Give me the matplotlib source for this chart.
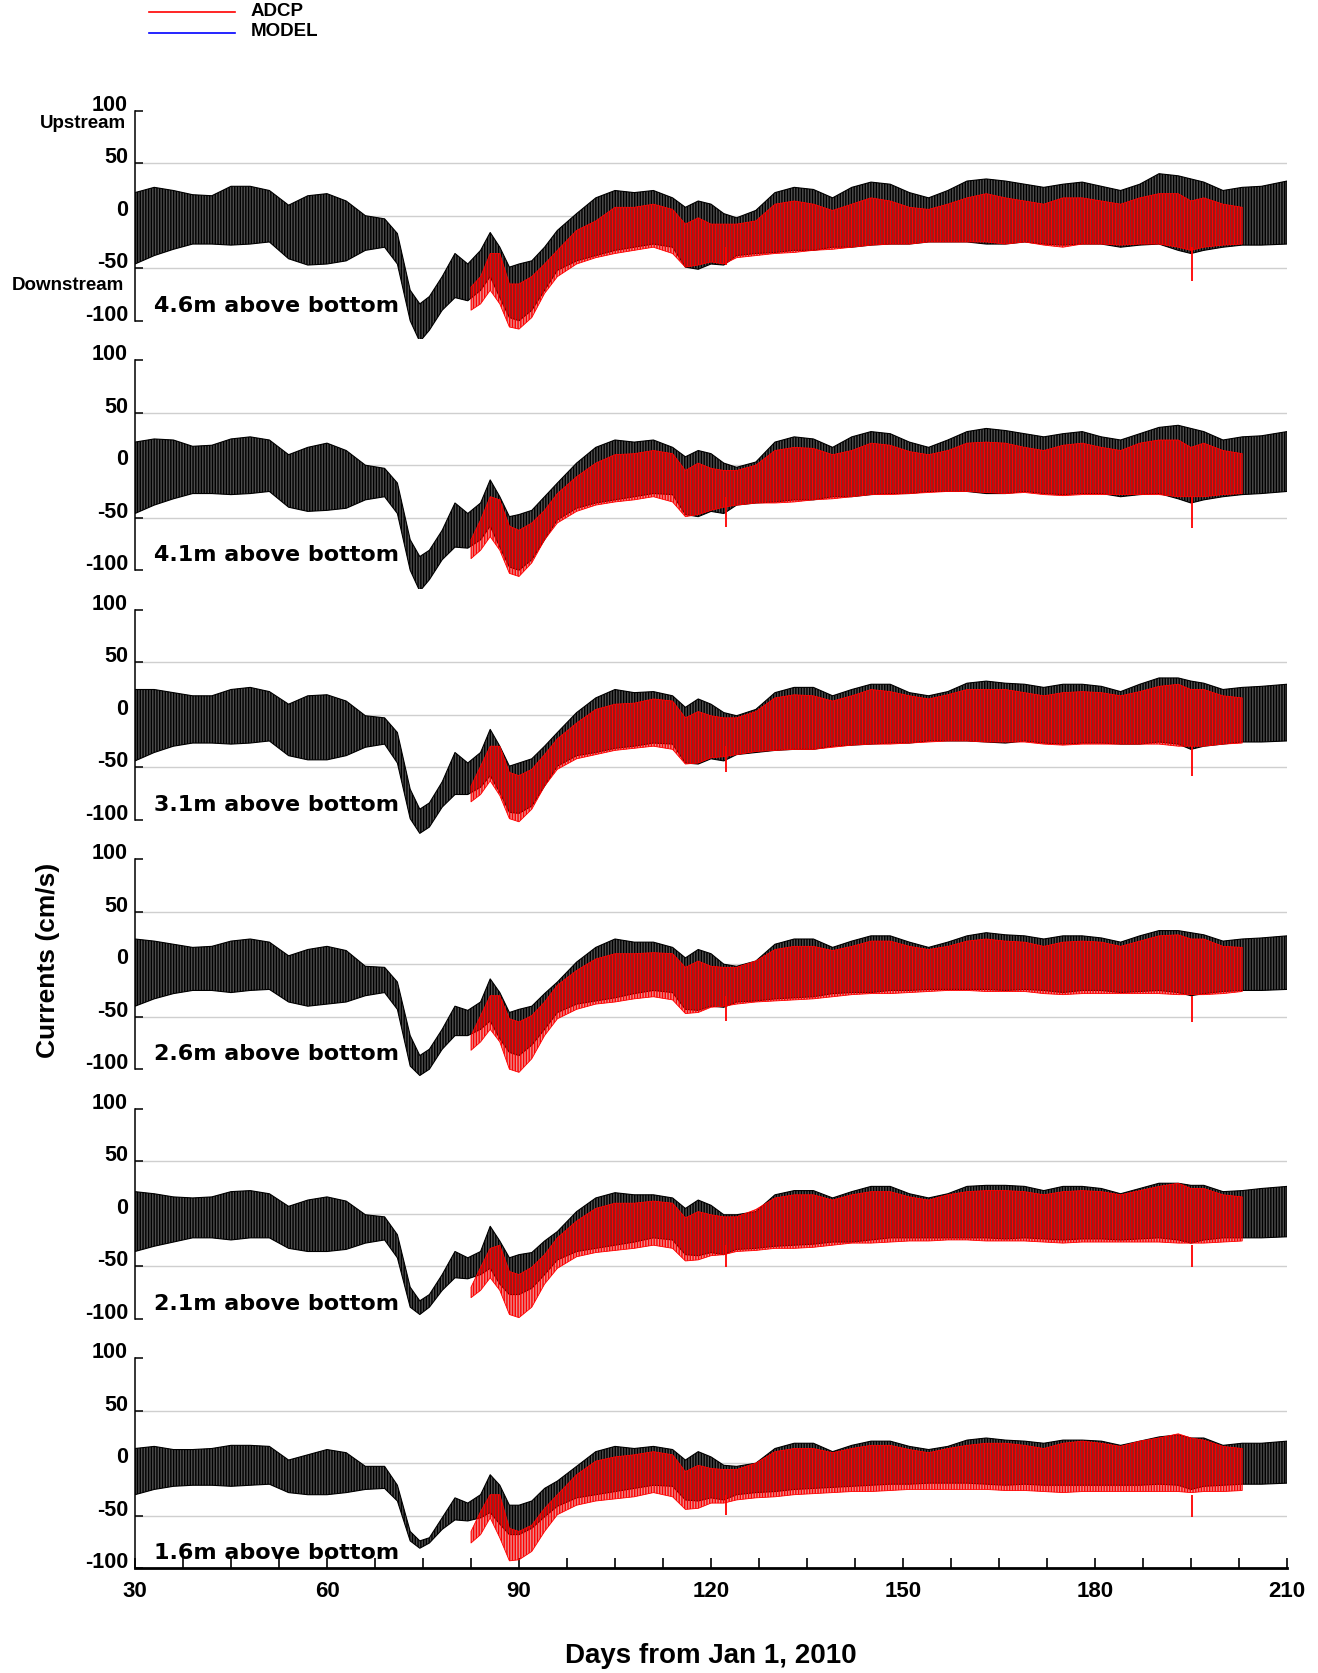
import matplotlib
matplotlib.use("Agg")
import matplotlib.pyplot as plt
from matplotlib.lines import Line2D
import numpy as np

plt.rcParams['font.family'] = ['Liberation Sans', 'DejaVu Sans']
plt.rcParams['hatch.linewidth'] = 1.0

days_black = [30, 33, 36, 39, 42, 45, 48, 51, 54, 57, 60, 63, 66, 69, 71, 73, 74.5, 76, 78, 80,
              82, 84, 85.5, 87, 88.5, 90, 92, 94, 96, 99, 102, 105, 108, 111, 114, 116, 118, 120,
              122, 124, 127, 130, 133, 136, 139, 142, 145, 148, 151, 154, 157, 160, 163, 166, 169,
              172, 175, 178, 181, 184, 187, 190, 193, 195, 197, 200, 203, 206, 210]
days_red = [82.5, 84, 85.5, 87, 88.5, 90, 92, 94, 96, 99, 102, 105, 108, 111, 114, 116, 118, 120,
            122, 124, 127, 130, 133, 136, 139, 142, 145, 148, 151, 154, 157, 160, 163, 166, 169,
            172, 175, 178, 181, 184, 187, 190, 193, 195, 197, 200, 203]

depths = ['4.6m above bottom', '4.1m above bottom', '3.1m above bottom',
          '2.6m above bottom', '2.1m above bottom', '1.6m above bottom']

# black series: upper / lower envelope of the tidal signal, one list per depth
black_hi_46 = [22, 27, 24, 20, 19, 28, 28, 24, 10, 19, 21, 14, 0, -3, -17, -71, -84, -77, -58, -36,
               -46, -33, -16, -30, -49, -46, -43, -30, -14, 2, 17, 24, 22, 24, 17, 8, 14, 11,
               2, -2, 5, 22, 27, 25, 17, 27, 32, 30, 22, 17, 24, 33, 35, 33, 30,
               27, 30, 32, 28, 24, 30, 40, 38, 35, 32, 24, 27, 28, 33]
black_lo_46 = [-46, -38, -32, -27, -27, -28, -27, -25, -41, -47, -46, -43, -33, -30, -46, -100, -120, -109, -90, -78,
               -81, -71, -58, -78, -97, -100, -90, -71, -52, -43, -38, -33, -30, -27, -30, -49, -51, -46,
               -47, -38, -36, -35, -33, -33, -30, -30, -28, -27, -27, -25, -25, -25, -27, -27, -25,
               -27, -28, -27, -27, -30, -28, -27, -33, -36, -33, -30, -28, -28, -27]
black_hi_41 = [22, 25, 24, 18, 19, 25, 27, 24, 10, 17, 21, 14, 0, -3, -17, -71, -87, -81, -62, -36,
               -46, -36, -14, -30, -49, -47, -43, -30, -17, 2, 17, 24, 22, 24, 17, 8, 14, 11,
               2, -2, 3, 22, 27, 25, 17, 27, 32, 30, 22, 17, 24, 32, 35, 33, 30,
               27, 30, 32, 27, 24, 30, 36, 38, 35, 32, 24, 27, 28, 32]
black_lo_41 = [-46, -38, -32, -27, -27, -28, -27, -25, -40, -44, -43, -41, -33, -30, -46, -100, -120, -109, -90, -78,
               -79, -71, -58, -78, -97, -100, -90, -71, -52, -41, -36, -33, -30, -27, -28, -47, -49, -44,
               -46, -38, -36, -35, -33, -33, -30, -30, -28, -27, -27, -25, -25, -25, -27, -27, -25,
               -27, -28, -27, -27, -30, -28, -27, -32, -36, -33, -30, -28, -27, -25]
black_hi_31 = [24, 24, 21, 18, 18, 24, 26, 22, 10, 18, 19, 13, -1, -3, -17, -71, -90, -84, -64, -36,
               -46, -36, -14, -30, -49, -46, -42, -30, -17, 2, 16, 24, 21, 22, 18, 7, 15, 10,
               2, -1, 5, 21, 26, 26, 18, 24, 29, 29, 21, 18, 22, 30, 32, 30, 29,
               26, 29, 29, 27, 22, 29, 35, 35, 32, 30, 24, 26, 27, 29]
black_lo_31 = [-44, -36, -30, -27, -27, -28, -27, -25, -39, -43, -43, -39, -31, -28, -46, -99, -113, -107, -88, -76,
               -76, -69, -58, -74, -93, -94, -87, -68, -49, -39, -36, -32, -30, -27, -28, -46, -47, -42,
               -44, -38, -36, -34, -33, -33, -30, -29, -28, -27, -27, -25, -25, -25, -26, -27, -25,
               -27, -28, -27, -27, -28, -28, -26, -28, -33, -30, -28, -26, -26, -25]
black_hi_26 = [24, 22, 19, 16, 17, 22, 24, 21, 8, 14, 17, 13, -2, -3, -17, -68, -87, -81, -62, -40,
               -44, -36, -14, -27, -46, -43, -40, -28, -17, 2, 16, 24, 21, 21, 16, 6, 14, 10,
               0, -2, 3, 19, 24, 24, 16, 22, 27, 27, 21, 16, 21, 27, 30, 28, 27,
               24, 27, 27, 25, 21, 27, 32, 32, 30, 28, 22, 24, 25, 27]
black_lo_26 = [-40, -33, -28, -25, -25, -27, -25, -24, -36, -40, -38, -36, -30, -27, -43, -97, -106, -100, -81, -68,
               -68, -62, -54, -71, -84, -87, -77, -62, -46, -38, -35, -32, -28, -25, -27, -43, -44, -40,
               -41, -36, -35, -33, -32, -31, -28, -27, -27, -25, -25, -24, -24, -24, -24, -25, -24,
               -25, -27, -25, -25, -27, -26, -25, -27, -30, -28, -26, -25, -25, -24]
black_hi_21 = [21, 19, 16, 15, 16, 21, 22, 19, 7, 13, 16, 12, -1, -3, -20, -70, -83, -77, -58, -36,
               -42, -36, -12, -26, -42, -39, -37, -26, -17, 2, 15, 20, 18, 18, 15, 5, 13, 8,
               -1, -1, 2, 18, 22, 22, 15, 21, 26, 26, 19, 15, 19, 26, 27, 27, 26,
               22, 26, 26, 24, 19, 24, 29, 29, 27, 27, 21, 22, 24, 26]
black_lo_21 = [-36, -31, -27, -23, -23, -25, -23, -23, -33, -36, -36, -34, -28, -25, -42, -89, -96, -89, -73, -61,
               -62, -58, -52, -67, -77, -77, -71, -58, -44, -36, -33, -30, -27, -23, -25, -39, -40, -37,
               -39, -34, -33, -31, -30, -29, -27, -27, -25, -23, -23, -23, -23, -23, -23, -24, -23,
               -24, -25, -24, -24, -25, -24, -23, -25, -28, -25, -23, -23, -23, -22]
black_hi_16 = [14, 16, 13, 13, 14, 17, 17, 16, 3, 8, 13, 10, -3, -3, -21, -65, -74, -71, -52, -33,
               -38, -30, -11, -21, -40, -40, -36, -24, -17, -3, 11, 16, 14, 16, 13, 3, 11, 6,
               -2, -3, 0, 14, 19, 19, 11, 17, 21, 21, 16, 13, 16, 22, 24, 22, 21,
               19, 22, 22, 21, 17, 21, 25, 27, 24, 24, 17, 19, 19, 21]
black_lo_16 = [-30, -25, -22, -21, -21, -22, -21, -20, -28, -30, -30, -28, -25, -24, -36, -74, -81, -76, -63, -54,
               -55, -52, -47, -58, -68, -68, -62, -51, -41, -33, -30, -27, -24, -21, -22, -35, -36, -33,
               -35, -30, -28, -27, -25, -24, -23, -22, -21, -20, -20, -19, -19, -19, -20, -21, -20,
               -21, -21, -21, -21, -21, -21, -20, -21, -25, -22, -21, -20, -20, -19]

# red series: upper / lower envelope, one list per depth
red_hi_46 = [-68, -58, -36, -36, -65, -65, -58, -46, -33, -14, -5, 8, 8, 11, 6, -8, -2, -8,
             -8, -8, -5, 11, 14, 11, 5, 11, 17, 14, 8, 6, 11, 17, 21, 17, 14,
             11, 17, 17, 14, 11, 17, 21, 21, 14, 17, 11, 8]
red_lo_46 = [-90, -84, -71, -84, -106, -108, -97, -74, -58, -46, -40, -36, -33, -30, -36, -49, -47, -44,
             -46, -40, -38, -36, -35, -33, -32, -30, -28, -27, -27, -25, -25, -25, -25, -27, -25,
             -28, -30, -27, -27, -28, -27, -27, -30, -33, -30, -28, -27]
red_hi_41 = [-71, -52, -30, -33, -58, -62, -55, -43, -27, -11, 2, 10, 11, 14, 11, -5, 2, -3,
             -5, -5, 0, 14, 17, 16, 10, 14, 21, 19, 13, 10, 14, 21, 22, 21, 17,
             14, 19, 21, 17, 14, 21, 24, 24, 17, 21, 14, 11]
red_lo_41 = [-89, -81, -68, -81, -103, -106, -93, -71, -55, -44, -38, -35, -33, -30, -35, -49, -47, -43,
             -40, -38, -36, -36, -35, -33, -32, -30, -28, -28, -27, -26, -25, -25, -26, -27, -26,
             -28, -29, -28, -28, -28, -28, -28, -30, -30, -30, -28, -27]
red_hi_31 = [-68, -49, -30, -30, -55, -58, -52, -38, -23, -8, 5, 10, 11, 15, 13, -3, 3, -1,
             -3, -3, 3, 16, 19, 18, 13, 18, 24, 22, 18, 15, 19, 24, 24, 24, 21,
             18, 21, 22, 21, 18, 22, 27, 29, 24, 24, 18, 16]
red_lo_31 = [-83, -76, -63, -77, -99, -102, -90, -68, -52, -42, -38, -34, -32, -30, -33, -47, -46, -41,
             -40, -38, -35, -34, -33, -33, -31, -29, -28, -28, -27, -26, -25, -25, -26, -26, -26,
             -28, -29, -28, -28, -28, -28, -28, -30, -30, -30, -28, -27]
red_hi_26 = [-68, -49, -30, -30, -52, -55, -49, -36, -20, -6, 5, 10, 10, 11, 10, -3, 3, -2,
             -3, -3, 3, 14, 17, 17, 13, 17, 22, 22, 17, 14, 17, 22, 24, 22, 21,
             17, 21, 22, 21, 17, 22, 27, 28, 24, 24, 17, 16]
red_lo_26 = [-82, -74, -62, -74, -100, -103, -90, -68, -52, -43, -38, -36, -33, -31, -34, -47, -46, -41,
             -40, -38, -36, -35, -34, -33, -31, -29, -28, -28, -27, -26, -25, -25, -26, -26, -26,
             -28, -29, -28, -28, -28, -28, -28, -29, -29, -29, -28, -26]
red_hi_21 = [-70, -51, -33, -30, -55, -58, -51, -39, -23, -7, 5, 10, 10, 12, 10, -4, 2, -1,
             -3, -3, 4, 15, 18, 18, 13, 18, 21, 21, 16, 13, 18, 21, 22, 22, 21,
             18, 21, 22, 21, 18, 22, 26, 29, 24, 24, 18, 16]
red_lo_21 = [-80, -73, -61, -73, -96, -99, -89, -67, -52, -41, -37, -35, -33, -30, -33, -45, -44, -40,
             -39, -36, -35, -33, -33, -32, -30, -28, -28, -27, -26, -26, -25, -25, -26, -26, -26,
             -27, -28, -27, -27, -27, -27, -27, -28, -28, -28, -27, -26]
red_hi_16 = [-65, -46, -30, -30, -62, -65, -59, -43, -30, -11, 2, 6, 8, 11, 8, -8, -2, -5,
             -6, -6, 0, 11, 14, 14, 10, 14, 17, 17, 13, 10, 14, 17, 19, 19, 17,
             14, 19, 21, 19, 16, 21, 24, 28, 24, 22, 16, 14]
red_lo_16 = [-76, -68, -52, -71, -93, -92, -84, -65, -49, -40, -36, -34, -32, -28, -32, -44, -43, -38,
             -38, -35, -33, -32, -30, -29, -28, -27, -27, -26, -25, -25, -25, -25, -25, -26, -26,
             -27, -28, -27, -27, -27, -27, -27, -27, -28, -27, -27, -26]

# short red spikes (day 122 and day 195)
spike_days = [122.3, 195.2]
spike_46 = [-47, -62]
spike_41 = [-59, -60]
spike_31 = [-55, -58]
spike_26 = [-54, -55]
spike_21 = [-51, -51]
spike_16 = [-49, -51]

black_hi = [black_hi_46, black_hi_41, black_hi_31, black_hi_26, black_hi_21, black_hi_16]
black_lo = [black_lo_46, black_lo_41, black_lo_31, black_lo_26, black_lo_21, black_lo_16]
red_hi = [red_hi_46, red_hi_41, red_hi_31, red_hi_26, red_hi_21, red_hi_16]
red_lo = [red_lo_46, red_lo_41, red_lo_31, red_lo_26, red_lo_21, red_lo_16]
spikes = [spike_46, spike_41, spike_31, spike_26, spike_21, spike_16]

W, H = 1318, 1673
fig = plt.figure(figsize=(W / 100, H / 100), dpi=100)

ylo, yhi = -117.5, 117.5
px_per_unit = 1.05
ax_h = (yhi - ylo) * px_per_unit
left_px, right_px = 135, 1287

axes = []
for k in range(6):
    top100 = 110.7 + 249.5 * k
    top_px = top100 - (yhi - 100) * px_per_unit
    ax = fig.add_axes([left_px / W, 1 - (top_px + ax_h) / H, (right_px - left_px) / W, ax_h / H])
    ax.set_xlim(30, 210)
    ax.set_ylim(ylo, yhi)
    ax.patch.set_alpha(0)
    for s in ['top', 'right', 'bottom']:
        ax.spines[s].set_visible(False)
    ax.spines['left'].set_bounds(-100, 100)
    ax.spines['left'].set_linewidth(1.1)
    ax.set_yticks([-100, -50, 0, 50, 100])
    ax.set_yticklabels(['-100', '-50', '0', '50', '100'], fontsize=15.5, fontweight='bold')
    for lbl in ax.get_yticklabels():
        lbl.set_verticalalignment('baseline')
    ax.tick_params(axis='y', direction='in', length=6, width=1.1, pad=5)
    ax.set_xticks([])
    for g in [-50, 0, 50]:
        ax.axhline(g, color='#cfcfcf', lw=1.0, zorder=0)

    ax.fill_between(days_black, black_lo[k], black_hi[k], facecolor='0.3', edgecolor='black',
                    hatch='||||||', linewidth=0.8, zorder=2)
    ax.fill_between(days_red, red_lo[k], red_hi[k], facecolor=(0.8, 0, 0, 0.45), edgecolor='red',
                    hatch='||||||', linewidth=0.6, zorder=3)
    ax.vlines(spike_days, spikes[k], -30, color='red', lw=1.3, zorder=3)

    ax.text(32.9, -91.4, depths[k], fontsize=16, fontweight='bold', family='DejaVu Sans',
            va='baseline', ha='left', zorder=5)
    axes.append(ax)

# bottom axis only on the last panel
ax = axes[-1]
ax.spines['bottom'].set_visible(True)
ax.spines['bottom'].set_position(('data', -100))
ax.spines['bottom'].set_linewidth(2.0)
ax.set_xticks(np.arange(30, 211, 7.5))
ax.set_xticklabels([str(int(t)) if t % 30 == 0 else '' for t in np.arange(30, 211, 7.5)],
                   fontsize=16, fontweight='bold')
ax.tick_params(axis='x', direction='in', length=7, width=1.2, pad=9)

# side labels
fig.text(126 / W, 1 - 123 / H, 'Upstream', fontsize=13.5, fontweight='bold', ha='right', va='center')
fig.text(124 / W, 1 - 285 / H, 'Downstream', fontsize=13.5, fontweight='bold', ha='right', va='center')
fig.text(48 / W, 1 - 960 / H, 'Currents (cm/s)', fontsize=19, fontweight='bold',
         rotation=90, ha='center', va='center')
fig.text(711 / W, 1 - 1656 / H, 'Days from Jan 1, 2010', fontsize=20, fontweight='bold',
         ha='center', va='center')

# legend at top left
fig.add_artist(Line2D([149 / W, 235 / W], [1 - 12 / H, 1 - 12 / H], color='red', lw=1.2))
fig.add_artist(Line2D([149 / W, 235 / W], [1 - 33 / H, 1 - 33 / H], color='blue', lw=1.2))
fig.text(251 / W, 1 - 11 / H, 'ADCP', fontsize=13.5, fontweight='bold', va='center')
fig.text(251 / W, 1 - 31 / H, 'MODEL', fontsize=13.5, fontweight='bold', va='center')

fig.savefig('out.png', dpi=100)
